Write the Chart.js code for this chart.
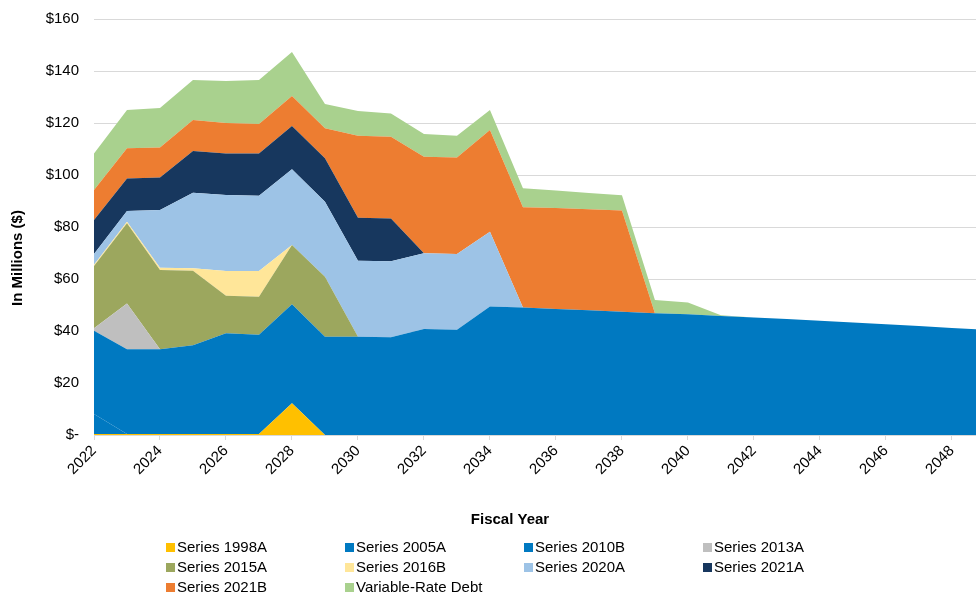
<!DOCTYPE html>
<html>
<head>
<meta charset="utf-8">
<script src="https://cdn.jsdelivr.net/npm/chart.js@4"></script>
<style>
  html, body { margin: 0; padding: 0; background: #fff; }
  #wrap { position: relative; width: 976px; height: 597px; }
  #legend {
    position: absolute; left: 166px; top: 537px;
    display: grid; grid-template-columns: repeat(4, 179px);
    font: 15px 'Liberation Sans', Arial, sans-serif; color: #000;
  }
  .item { height: 20px; line-height: 20px; white-space: nowrap; }
  .box { display: inline-block; width: 9px; height: 9px; margin-right: 2px; }
</style>
</head>
<body>
<div id="wrap">
  <canvas id="chart" width="976" height="597"></canvas>
  <div id="legend"></div>
</div>
<script>
'use strict';

// ── Data ─────────────────────────────────────────────────────────────────────

const years = [2022, 2023, 2024, 2025, 2026, 2027, 2028, 2029, 2030, 2031,
  2032, 2033, 2034, 2035, 2036, 2037, 2038, 2039, 2040, 2041,
  2042, 2043, 2044, 2045, 2046, 2047, 2048, 2049];
const tickYears = [2022, 2024, 2026, 2028, 2030, 2032, 2034, 2036, 2038, 2040,
  2042, 2044, 2046, 2048];

const seriesNames = ['Series 1998A', 'Series 2005A', 'Series 2010B', 'Series 2013A',
  'Series 2015A', 'Series 2016B', 'Series 2020A', 'Series 2021A',
  'Series 2021B', 'Variable-Rate Debt'];
const seriesColors = ['#ffc000', '#0079c1', '#0079c1', '#bfbfbf',
  '#9ca75e', '#ffe699', '#9dc3e6', '#17375e', '#ed7d31', '#a9d18e'];

// $ millions, fiscal years 2022–2049
const s1998A = [0.4, 0.4, 0.4, 0.4, 0.4, 0.4, 12.2, 0, 0, 0, 0, 0, 0, 0, 0, 0, 0, 0, 0, 0, 0, 0, 0, 0, 0, 0, 0, 0];
const s2005A = [7.7, 0, 0, 0, 0, 0, 0, 0, 0, 0, 0, 0, 0, 0, 0, 0, 0, 0, 0, 0, 0, 0, 0, 0, 0, 0, 0, 0];
const s2010B = [32.0, 32.6, 32.6, 34.1, 38.7, 38.2, 38.1, 37.8, 37.8, 37.6,
  40.8, 40.5, 49.4, 49.0, 48.5, 48.0, 47.4, 46.8, 46.4, 45.8,
  45.2, 44.6, 43.9, 43.3, 42.6, 41.9, 41.2, 40.5];
const s2013A = [1.0, 17.6, 0, 0, 0, 0, 0, 0, 0, 0, 0, 0, 0, 0, 0, 0, 0, 0, 0, 0, 0, 0, 0, 0, 0, 0, 0, 0];
const s2015A = [23.9, 30.8, 30.5, 28.7, 14.5, 14.6, 22.8, 23.1, 0, 0, 0, 0, 0, 0, 0, 0, 0, 0, 0, 0, 0, 0, 0, 0, 0, 0, 0, 0];
const s2016B = [0.5, 0.6, 0.8, 0.9, 9.5, 9.9, 0, 0, 0, 0, 0, 0, 0, 0, 0, 0, 0, 0, 0, 0, 0, 0, 0, 0, 0, 0, 0, 0];
const s2020A = [4.1, 4.2, 22.2, 29.1, 29.2, 28.9, 29.1, 28.8, 29.2, 29.2,
  29.1, 29.1, 28.8, 0, 0, 0, 0, 0, 0, 0, 0, 0, 0, 0, 0, 0, 0, 0];
const s2021A = [13.1, 12.5, 12.5, 16.0, 16.0, 16.3, 16.6, 16.7, 16.6, 16.5,
  0, 0, 0, 0, 0, 0, 0, 0, 0, 0, 0, 0, 0, 0, 0, 0, 0, 0];
const s2021B = [11.5, 11.6, 11.6, 12.0, 11.7, 11.3, 11.6, 11.6, 31.5, 31.4,
  37.1, 37.1, 39.1, 38.6, 38.8, 38.8, 38.9, 0, 0, 0, 0, 0, 0, 0, 0, 0, 0, 0];
const sVariable = [14.1, 14.7, 15.2, 15.3, 16.2, 16.9, 16.9, 9.3, 9.5, 9.0,
  8.8, 8.4, 7.7, 7.3, 6.7, 6.3, 5.9, 5.1, 4.6, 0.3, 0, 0, 0, 0, 0, 0, 0, 0];

const seriesValues = [s1998A, s2005A, s2010B, s2013A, s2015A, s2016B, s2020A, s2021A, s2021B, sVariable];

// ── Chart ────────────────────────────────────────────────────────────────────

const FONT = "'Liberation Sans', Arial, sans-serif";
Chart.defaults.font.family = FONT;

const axisTitles = {
  id: 'axisTitles',
  afterDraw(chart) {
    const c = chart.ctx;
    c.save();
    c.fillStyle = '#000';
    c.font = `bold 15px ${FONT}`;
    c.textAlign = 'center';
    c.textBaseline = 'middle';
    c.fillText('Fiscal Year', 510, 520);
    c.translate(18, 258);
    c.rotate(-Math.PI / 2);
    c.fillText('In Millions ($)', 0, 0);
    c.restore();
  },
};

const chart = new Chart(document.getElementById('chart'), {
  type: 'line',
  data: {
    labels: years,
    datasets: seriesValues.map((vals, i) => ({
      label: seriesNames[i],
      data: vals,
      backgroundColor: seriesColors[i],
      borderColor: seriesColors[i],
      borderWidth: 0,
      pointRadius: 0,
      tension: 0,
      fill: i === 0 ? 'origin' : '-1',
    })),
  },
  options: {
    responsive: false,
    animation: false,
    layout: { padding: { top: 19, right: 0, bottom: 0, left: 0 } },
    plugins: { legend: { display: false }, tooltip: { enabled: false } },
    scales: {
      x: {
        type: 'linear',
        min: 2022,
        max: 2048.73,
        afterBuildTicks: s => { s.ticks = tickYears.map(v => ({ value: v })); },
        afterFit: s => { s.height = 162; },
        grid: { drawOnChartArea: false, color: '#d9d9d9', tickLength: 5 },
        border: { color: '#d9d9d9' },
        ticks: {
          autoSkip: false, maxRotation: 45, minRotation: 45,
          color: '#000', font: { size: 15 }, padding: 2,
          callback: v => String(v),
        },
      },
      y: {
        stacked: true,
        min: 0,
        max: 160,
        afterFit: s => { s.width = 94; s.paddingTop = 0; s.paddingBottom = 0; },
        grid: { color: '#d9d9d9', drawTicks: false },
        border: { display: false },
        ticks: {
          stepSize: 20, padding: 15, color: '#000', font: { size: 15 },
          callback: v => (v === 0 ? '$-' : '$' + v),
        },
      },
    },
  },
  plugins: [axisTitles],
});

// HTML legend, 4 columns
const legendEl = document.getElementById('legend');
chart.data.datasets.forEach(ds => {
  const item = document.createElement('div');
  item.className = 'item';
  const box = document.createElement('span');
  box.className = 'box';
  box.style.background = ds.backgroundColor;
  item.appendChild(box);
  item.appendChild(document.createTextNode(ds.label));
  legendEl.appendChild(item);
});
</script>
</body>
</html>
